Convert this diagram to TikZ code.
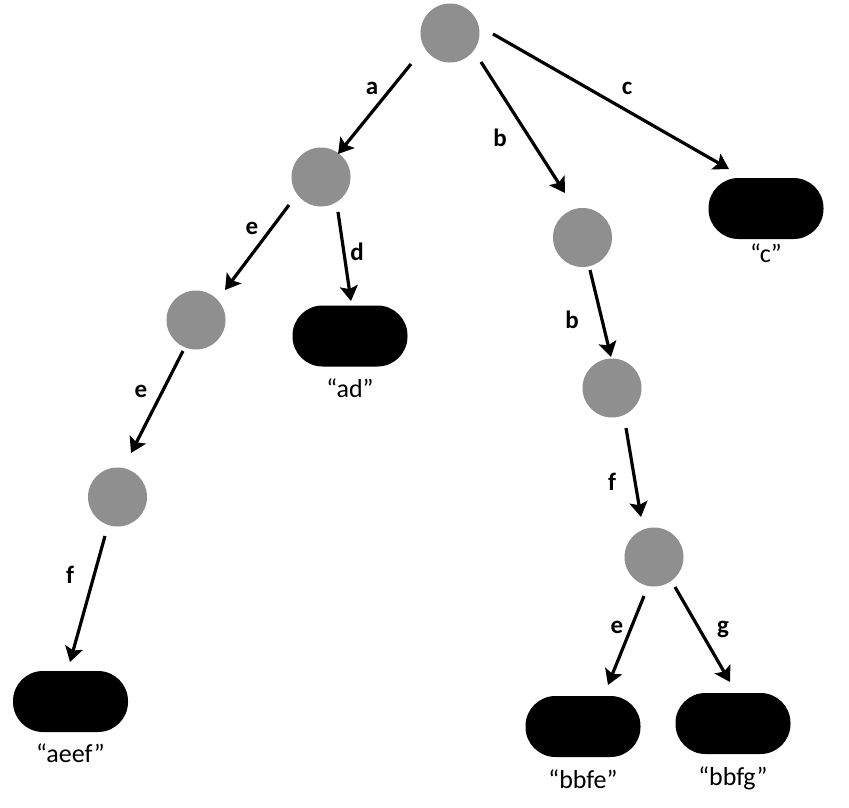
\documentclass[tikz,border=0pt]{standalone}
\usepackage{fontspec}
\setmainfont{Carlito}
\usetikzlibrary{arrows.meta}
\definecolor{nodegray}{RGB}{143,143,143}
\begin{document}
\begin{tikzpicture}[x=1pt,y=-1pt,
  inner/.style={circle,fill=nodegray,minimum size=59pt,inner sep=0pt},
  leaf/.style={rectangle,rounded corners=30pt,fill=black,minimum width=115pt,minimum height=61pt,inner sep=0pt},
  edge/.style={line width=3.2pt,-{Stealth[length=15pt,width=18pt,inset=3pt]}},
  elab/.style={font=\fontsize{25}{29}\selectfont\bfseries,inner sep=0pt},
  llab/.style={font=\fontsize{26}{30}\selectfont,anchor=base,inner sep=0pt}]
\useasboundingbox (0,0) rectangle (849,808);
% inner nodes
\node[inner] (root) at (450,33) {};
\node[inner] (na)   at (321,177) {};
\node[inner] (ne1)  at (196,320) {};
\node[inner] (ne2)  at (117.5,497) {};
\node[inner] (nb1)  at (582.5,237.5) {};
\node[inner] (nb2)  at (612,388) {};
\node[inner] (nf)   at (654,557) {};
% leaves
\node[leaf] (laeef) at (70.5,701.5) {};
\node[leaf] (lad)   at (350,336) {};
\node[leaf] (lc)    at (766,208.5) {};
\node[leaf] (lbbfe) at (583,726.5) {};
\node[leaf] (lbbfg) at (733,723.5) {};
% leaf labels
\node[llab] (taeef) at (70.5,762) {“aeef”};
\node[llab] (tad)   at (350,397) {“ad”};
\node[llab] (tc)    at (766,262) {“c”};
\node[llab] (tbbfe) at (583,788) {“bbfe”};
\node[llab] (tbbfg) at (733,785) {“bbfg”};
% edges
\draw[edge] ([shift={(-39,31)}]root.center) -- ([shift={(17,-23)}]na.center);
\draw[edge] ([shift={(31,29)}]root.center) -- ([shift={(-17.5,-44.5)}]nb1.center);
\draw[edge] ([shift={(43,1)}]root.center) -- ([shift={(-37,-39.5)}]lc.center);
\draw[edge] ([shift={(-32,28)}]na.center) -- ([shift={(29,-30)}]ne1.center);
\draw[edge] ([shift={(17,35)}]na.center) -- ([shift={(1,-35)}]lad.center);
\draw[edge] ([shift={(-13,31)}]ne1.center) -- ([shift={(13.5,-44)}]ne2.center);
\draw[edge] ([shift={(-12.5,39)}]ne2.center) -- ([shift={(-0.5,-39.5)}]laeef.center);
\draw[edge] ([shift={(7.5,32.5)}]nb1.center) -- ([shift={(-1,-31)}]nb2.center);
\draw[edge] ([shift={(14,40)}]nb2.center) -- ([shift={(-13,-40)}]nf.center);
\draw[edge] ([shift={(-10,39)}]nf.center) -- ([shift={(25,-41.5)}]lbbfe.center);
\draw[edge] ([shift={(21,30)}]nf.center) -- ([shift={(-3,-41.5)}]lbbfg.center);
% edge labels
\node[elab] (ea)  at (372,88)  {a};
\node[elab] (eb)  at (500,138) {b};
\node[elab] (ec)  at (627,88)  {c};
\node[elab] (ee1) at (252,228) {e};
\node[elab] (ed)  at (357,252) {d};
\node[elab] (ee2) at (141,391) {e};
\node[elab] (ef1) at (70,575)  {f};
\node[elab] (eb2) at (572,320) {b};
\node[elab] (ef2) at (612,482) {f};
\node[elab] (ee3) at (617,627) {e};
\node[elab] (eg)  at (723,629) {g};
\end{tikzpicture}
\end{document}
